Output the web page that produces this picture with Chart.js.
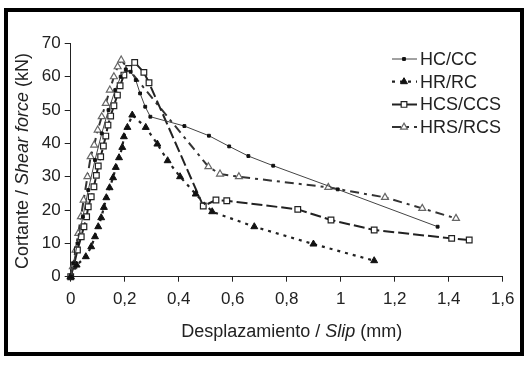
<!DOCTYPE html>
<html>
<head>
<meta charset="utf-8">
<script src="https://cdn.jsdelivr.net/npm/chart.js@4/dist/chart.umd.min.js"></script>
<style>
  html, body { margin: 0; padding: 0; background: #fff; }
  #wrap { position: relative; width: 532px; height: 365px; }
  #frame { position: absolute; left: 4px; top: 8px; width: 520px; height: 348px; box-sizing: border-box; border: 4px solid #000; pointer-events: none; }
  canvas { display: block; }
</style>
</head>
<body>
<div id="wrap">
  <canvas id="c" width="532" height="365"></canvas>
  <div id="frame"></div>
</div>
<script>
// ---- data ----
const seriesLabels = ['HC/CC', 'HR/RC', 'HCS/CCS', 'HRS/RCS'];

const hcX = [0, 0.01, 0.025, 0.045, 0.065, 0.09, 0.115, 0.14, 0.165, 0.185, 0.204, 0.222, 0.241, 0.257, 0.276, 0.295, 0.421, 0.512, 0.587, 0.658, 0.75, 0.989, 1.359];
const hcY = [0, 4, 10, 18, 26, 35, 43, 50, 56, 60, 62.2, 61.5, 59, 55, 51, 48, 45.2, 42.3, 39.1, 36.2, 33.3, 26.2, 15];

const hrX = [0, 0.022, 0.056, 0.076, 0.09, 0.102, 0.113, 0.123, 0.132, 0.144, 0.157, 0.167, 0.179, 0.191, 0.197, 0.21, 0.228, 0.278, 0.321, 0.359, 0.405, 0.463, 0.524, 0.68, 0.899, 1.124];
const hrY = [0, 3.5, 6, 9, 12, 15, 17.7, 20.8, 23.7, 26.7, 29.7, 32.8, 35.7, 38.8, 42, 44.8, 48.5, 44.8, 39.8, 34.8, 30, 24.8, 19.5, 15, 9.8, 4.8];

const hcsX = [0, 0.012, 0.025, 0.039, 0.049, 0.059, 0.065, 0.076, 0.086, 0.095, 0.102, 0.111, 0.121, 0.13, 0.138, 0.148, 0.16, 0.173, 0.183, 0.197, 0.215, 0.237, 0.271, 0.29, 0.491, 0.538, 0.578, 0.841, 0.964, 1.124, 1.411, 1.476];
const hcsY = [0, 3.5, 8, 12, 15, 18, 21, 24, 27, 30.4, 33.2, 36, 39.2, 42.2, 45.5, 48.2, 51.3, 54.5, 57.3, 60.5, 62.5, 64.3, 61.3, 58.2, 21.2, 23, 22.8, 20.2, 17, 14, 11.5, 11];

const hrsX = [0, 0.008, 0.018, 0.028, 0.038, 0.048, 0.062, 0.074, 0.087, 0.1, 0.115, 0.13, 0.145, 0.16, 0.174, 0.187, 0.51, 0.553, 0.623, 0.954, 1.164, 1.302, 1.427];
const hrsY = [0, 3, 8, 13, 18, 23, 30, 36, 39.5, 44, 48, 52, 56, 60, 63, 65, 33, 30.8, 30, 26.8, 23.8, 20.5, 17.5];

const xTickLabels = ['0', '0,2', '0,4', '0,6', '0,8', '1', '1,2', '1,4', '1,6'];
const yTickLabels = ['0', '10', '20', '30', '40', '50', '60', '70'];

const xTitleParts = [['Desplazamiento / ', false], ['Slip', true], [' (mm)', false]];
const yTitleParts = [['Cortante / ', false], ['Shear force', true], [' (kN)', false]];

// ---- helpers ----
const pts = (xs, ys) => xs.map((x, i) => ({ x: x, y: ys[i] }));
const FONT = '"Liberation Sans", Arial, sans-serif';
const INK = '#222';

const datasets = [
  { label: seriesLabels[0], data: pts(hcX, hcY), borderColor: '#444', borderWidth: 1, borderDash: [],
    pointStyle: 'rect', pointRadius: 2, pointBackgroundColor: '#111', pointBorderColor: '#111', pointBorderWidth: 1 },
  { label: seriesLabels[1], data: pts(hrX, hrY), borderColor: '#222', borderWidth: 2.2, borderDash: [3, 5],
    pointStyle: 'triangle', pointRadius: 4, pointBackgroundColor: '#111', pointBorderColor: '#111', pointBorderWidth: 1 },
  { label: seriesLabels[2], data: pts(hcsX, hcsY), borderColor: '#222', borderWidth: 2, borderDash: [11, 4],
    pointStyle: 'rect', pointRadius: 4, pointBackgroundColor: '#fff', pointBorderColor: '#222', pointBorderWidth: 1.2 },
  { label: seriesLabels[3], data: pts(hrsX, hrsY), borderColor: '#333', borderWidth: 2, borderDash: [9, 5, 3, 5],
    pointStyle: 'triangle', pointRadius: 4, pointBackgroundColor: '#fff', pointBorderColor: '#666', pointBorderWidth: 1.2 }
];
datasets.forEach(d => { d.fill = false; d.tension = 0; d.clip = false; d.pointHoverRadius = d.pointRadius; });

function drawRich(ctx, parts, size) {
  let total = 0;
  const widths = parts.map(p => {
    ctx.font = (p[1] ? 'italic ' : '') + size + 'px ' + FONT;
    const w = ctx.measureText(p[0]).width; total += w; return w;
  });
  let x = -total / 2;
  parts.forEach((p, i) => {
    ctx.font = (p[1] ? 'italic ' : '') + size + 'px ' + FONT;
    ctx.fillText(p[0], x, 0);
    x += widths[i];
  });
}

const titlesPlugin = {
  id: 'richTitles',
  afterDraw(chart) {
    const ctx = chart.ctx, ca = chart.chartArea;
    ctx.save();
    ctx.fillStyle = INK;
    ctx.textAlign = 'left';
    ctx.textBaseline = 'alphabetic';
    ctx.translate((ca.left + ca.right) / 2 + 5, 337);
    drawRich(ctx, xTitleParts, 18);
    ctx.restore();

    ctx.save();
    ctx.fillStyle = INK;
    ctx.textAlign = 'left';
    ctx.textBaseline = 'alphabetic';
    ctx.translate(28, (ca.top + ca.bottom) / 2 + 1);
    ctx.rotate(-Math.PI / 2);
    drawRich(ctx, yTitleParts, 18);
    ctx.restore();
  }
};

const legendPlugin = {
  id: 'lineLegend',
  afterDraw(chart) {
    const ctx = chart.ctx;
    chart.data.datasets.forEach((ds, i) => {
      const y = 59 + i * 22.7;
      ctx.save();
      ctx.strokeStyle = ds.borderColor;
      ctx.lineWidth = ds.borderWidth;
      ctx.setLineDash(ds.borderDash || []);
      ctx.beginPath(); ctx.moveTo(392, y); ctx.lineTo(417, y); ctx.stroke();
      ctx.setLineDash([]);
      ctx.fillStyle = ds.pointBackgroundColor;
      ctx.strokeStyle = ds.pointBorderColor;
      ctx.lineWidth = ds.pointBorderWidth;
      if (Chart.helpers && Chart.helpers.drawPoint) {
        Chart.helpers.drawPoint(ctx, { pointStyle: ds.pointStyle, radius: ds.pointRadius, borderWidth: ds.pointBorderWidth, rotation: 0 }, 404, y);
      }
      ctx.fillStyle = INK;
      ctx.font = '18px ' + FONT;
      ctx.textAlign = 'left';
      ctx.textBaseline = 'middle';
      ctx.fillText(ds.label, 420, y + 1);
      ctx.restore();
    });
  }
};

Chart.defaults.font.family = FONT;
Chart.defaults.color = INK;

new Chart(document.getElementById('c'), {
  type: 'line',
  data: { datasets: datasets },
  options: {
    responsive: false,
    animation: false,
    devicePixelRatio: 1,
    layout: { padding: { left: 0, right: 29.3, top: 43.4, bottom: 0 } },
    plugins: { legend: { display: false }, tooltip: { enabled: false } },
    scales: {
      x: {
        type: 'linear', min: 0, max: 1.6,
        ticks: { stepSize: 0.2, autoSkip: false, maxRotation: 0, padding: 7, color: INK, font: { size: 17 },
                 callback: (v, i) => xTickLabels[i] },
        grid: { display: true, drawOnChartArea: false, drawTicks: true, tickLength: 5, color: INK, lineWidth: 1 },
        border: { display: true, color: INK, width: 1 },
        title: { display: false },
        afterFit: s => { s.height = 88.3; }
      },
      y: {
        type: 'linear', min: 0, max: 70,
        ticks: { stepSize: 10, autoSkip: false, padding: 4, color: INK, font: { size: 17 },
                 callback: (v, i) => yTickLabels[i] },
        grid: { display: true, drawOnChartArea: false, drawTicks: true, tickLength: 6, color: INK, lineWidth: 1 },
        border: { display: true, color: INK, width: 1 },
        title: { display: false },
        afterFit: s => { s.width = 70.7; }
      }
    }
  },
  plugins: [titlesPlugin, legendPlugin]
});
</script>
</body>
</html>
